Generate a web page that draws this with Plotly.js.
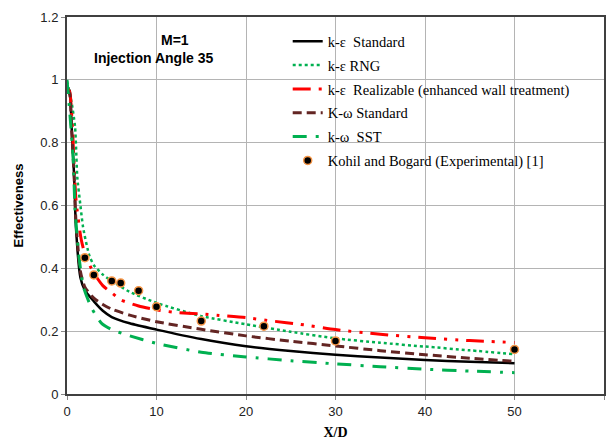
<!DOCTYPE html>
<html><head><meta charset="utf-8">
<script src="https://cdn.plot.ly/plotly-3.0.1.min.js"></script>
<style>html,body{margin:0;padding:0;background:#fff}#chart{width:610px;height:447px}</style>
</head><body><div id="chart"></div>
<script>
// k-ε Standard
const xStd = [0, 0.3, 0.5, 0.8, 1, 1.5, 2, 3, 4, 5, 7, 10, 15, 20, 25, 30, 35, 40, 45, 50];
const eStd = [0.98, 0.965, 0.86, 0.69, 0.53, 0.37, 0.33, 0.295, 0.265, 0.245, 0.225, 0.205, 0.175, 0.152, 0.137, 0.125, 0.116, 0.108, 0.103, 0.098];
// k-ε RNG
const xRng = [0, 0.5, 0.9, 1.15, 1.5, 1.8, 2.5, 3, 4, 5, 7, 10, 15, 20, 25, 30, 35, 40, 45, 50];
const eRng = [0.995, 0.93, 0.85, 0.69, 0.6, 0.53, 0.44, 0.41, 0.38, 0.36, 0.325, 0.29, 0.248, 0.222, 0.198, 0.177, 0.163, 0.151, 0.139, 0.127];
// k-ε Realizable
const xRea = [0, 0.3, 0.6, 1, 1.6, 2.1, 3, 4, 5, 6, 8, 10, 12, 15, 17, 20, 23, 26, 30, 35, 40, 45, 50];
const eRea = [0.975, 0.962, 0.85, 0.62, 0.49, 0.437, 0.385, 0.345, 0.322, 0.3, 0.28, 0.268, 0.26, 0.255, 0.25, 0.243, 0.232, 0.222, 0.205, 0.19, 0.179, 0.17, 0.164];
// K-ω Standard
const xKw = [0, 0.3, 0.5, 0.8, 1, 1.5, 2, 3, 4, 5, 7, 10, 15, 20, 25, 30, 35, 40, 45, 50];
const eKw = [0.97, 0.955, 0.85, 0.69, 0.55, 0.39, 0.34, 0.305, 0.285, 0.27, 0.251, 0.23, 0.206, 0.185, 0.168, 0.153, 0.138, 0.125, 0.114, 0.104];
// k-ω SST
const xSst = [0, 0.3, 0.7, 0.9, 1.34, 1.82, 2.76, 3.87, 5, 6.7, 10, 15, 20, 25, 30, 35, 40, 45, 50];
const eSst = [1.0, 0.9, 0.745, 0.586, 0.437, 0.342, 0.273, 0.225, 0.205, 0.188, 0.161, 0.133, 0.118, 0.106, 0.096, 0.087, 0.079, 0.073, 0.068];
// Kohil and Bogard (Experimental)
const xExp = [2, 3, 5, 6, 8, 10, 15, 22, 30, 50];
const eExp = [0.434, 0.379, 0.36, 0.353, 0.329, 0.278, 0.232, 0.216, 0.169, 0.142];

const xTicks = [0, 10, 20, 30, 40, 50, 60];
const yTicks = [0, 0.2, 0.4, 0.6, 0.8, 1, 1.2];
const yTickText = ['0', '0.2', '0.4', '0.6', '0.8', '1', '1.2'];

const lineTrace = (x, y, name, line, g) => ({x, y, name, type:'scatter', mode:'lines', line, legendgroup:g, hoverinfo:'skip'});

const data = [
  lineTrace(xStd, eStd, 'k-ε  Standard', {color:'#000000', width:2.5, shape:'spline', smoothing:0.6}, 'a'),
  lineTrace(xRng, eRng, 'k-ε RNG', {color:'#00b050', width:2.5, dash:'dot', shape:'spline', smoothing:0.6}, 'b'),
  lineTrace(xRea, eRea, 'k-ε  Realizable (enhanced wall treatment)', {color:'#ff0000', width:3, dash:'18px,8px,3px,8px,3px,8px', shape:'spline', smoothing:0.6}, 'c'),
  lineTrace(xKw, eKw, 'K-ω Standard', {color:'#632523', width:3, dash:'9px,5px', shape:'spline', smoothing:0.6}, 'd'),
  lineTrace(xSst, eSst, 'k-ω  SST', {color:'#00b050', width:3, dash:'14px,9px,3px,9px', shape:'spline', smoothing:0.6}, 'e'),
  {x:xExp, y:eExp, name:'Kohil and Bogard (Experimental) [1]', type:'scatter', mode:'markers', legendgroup:'f',
   marker:{color:'#000000', size:8, line:{color:'#f79646', width:1.5}}, hoverinfo:'skip'}
];

const layout = {
  width:610, height:447,
  margin:{l:67, r:6, t:17, b:53},
  paper_bgcolor:'#ffffff', plot_bgcolor:'#ffffff',
  showlegend:true,
  legend:{x:0.411, xanchor:'left', y:0.978, yanchor:'top', bgcolor:'rgba(0,0,0,0)',
          font:{family:'Liberation Serif', size:14.5, color:'#000'}, tracegroupgap:2, itemwidth:30},
  xaxis:{range:[0,60], tickvals:xTicks, ticks:'outside', ticklen:4, tickcolor:'#888',
         showgrid:true, gridcolor:'#b4b4b4', gridwidth:1, zeroline:false,
         showline:true, mirror:true, linecolor:'#404040', linewidth:2,
         tickfont:{family:'Liberation Sans', size:13, color:'#222'},
         title:{text:'<b>X/D</b>', font:{family:'Liberation Serif', size:14, color:'#000'}, standoff:10}},
  yaxis:{range:[0,1.2], tickvals:yTicks, ticktext:yTickText, ticks:'outside', ticklen:4, tickcolor:'#888',
         showgrid:true, gridcolor:'#b4b4b4', gridwidth:1, zeroline:false,
         showline:true, mirror:true, linecolor:'#404040', linewidth:2,
         tickfont:{family:'Liberation Sans', size:13, color:'#222'},
         title:{text:'<b>Effectiveness</b>', font:{family:'Liberation Sans', size:13, color:'#000'}, standoff:14}},
  annotations:[
    {xref:'paper', yref:'paper', x:0.201, y:0.939, xanchor:'center', yanchor:'middle', text:'<b>M=1</b>', showarrow:false,
     font:{family:'Liberation Sans', size:14, color:'#000'}},
    {xref:'paper', yref:'paper', x:0.162, y:0.891, xanchor:'center', yanchor:'middle', text:'<b>Injection Angle 35</b>', showarrow:false,
     font:{family:'Liberation Sans', size:14, color:'#000'}}
  ]
};

Plotly.newPlot('chart', data, layout, {displayModeBar:false, staticPlot:true});
</script>
</body></html>
